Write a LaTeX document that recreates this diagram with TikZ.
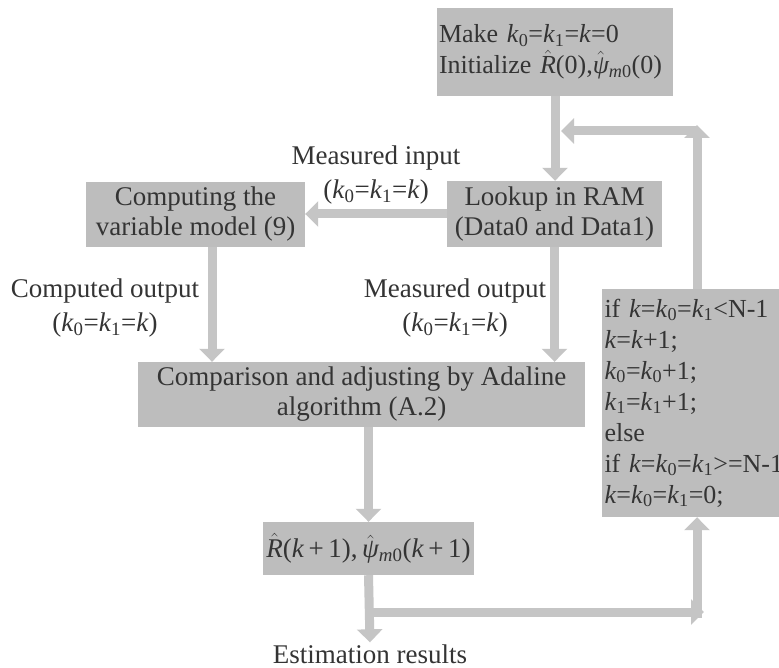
\documentclass[tikz,border=0pt]{standalone}
\usepackage{fontspec}
\setmainfont{Liberation Serif}
\usepackage{xcolor}
\usepackage{tikz}
\usetikzlibrary{arrows.meta}

\definecolor{boxgray}{RGB}{189,189,189}
\definecolor{flowgray}{RGB}{197,197,197}
\definecolor{inkgray}{RGB}{52,52,52}

\newcommand{\ksub}[1]{\textit{k}\textsubscript{#1}}
\newcommand{\hatit}[1]{$\hat{\mbox{\itshape #1}}$}

\tikzset{
	block/.style={fill=boxgray, text=inkgray, align=center, inner sep=3pt, font=\fontsize{27}{30}\selectfont},
	note/.style={text=inkgray, align=center, inner sep=2pt, font=\fontsize{27}{34}\selectfont},
	flow/.style={draw=flowgray, line width=9pt, -{Triangle[width=25pt,length=13pt]}}
}

\begin{document}
\begin{tikzpicture}[x=1pt,y=-1pt]
		\useasboundingbox[fill=white] (0,0) rectangle (779,668);
		\clip (0,0) rectangle (779,668);
		
		\node[block, align=left, text width=232, inner xsep=2pt, minimum height=88, font=\fontsize{26}{31}\selectfont] (init) at (555,52)
			{Make \ksub0=\ksub1=\textit{k}=0\\\mbox{Initialize \hatit{R}(0),\hatit{ψ}\textsubscript{\textit{m}0}(0)}};
		\node[block, minimum width=215, minimum height=66] (lookup) at (554.5,214) {Lookup in RAM\\(Data0 and Data1)};
		\node[block, minimum width=219, minimum height=65] (comp) at (195.5,214.5) {Computing the\\variable model (9)};
		\node[block, minimum width=447, minimum height=65] (compare) at (361.5,394.5) {Comparison and adjusting by Adaline\\algorithm (A.2)};
		\node[block, minimum width=207, minimum height=53] (result) at (368.5,548.5)
			{\hatit{R}(\textit{k}\,+\,1),\,\hatit{ψ}\textsubscript{\textit{m}0}(\textit{k}\,+\,1)};
		\node[block, align=left, text width=205, minimum height=228, font=\fontsize{26}{31}\selectfont] (ifbox) at (707,403)
			{if \textit{k}=\ksub0=\ksub1<N-1\\\textit{k}=\textit{k}+1;\\\ksub0=\ksub0+1;\\\ksub1=\ksub1+1;\\else\\if \textit{k}=\ksub0=\ksub1>=N-1\\\textit{k}=\ksub0=\ksub1=0;};
		
		\node[note] (inlabel) at (376,175) {Measured input\\(\ksub0=\ksub1=\textit{k})};
		\node[note] (colabel) at (105,308) {Computed output\\(\ksub0=\ksub1=\textit{k})};
		\node[note] (molabel) at (455,308) {Measured output\\(\ksub0=\ksub1=\textit{k})};
		\node[note] (est) at (370,654) {Estimation results};
		
		\coordinate (back) at (697,131);
		\coordinate (join) at (561,131);
		\coordinate (split) at (369,612);
		\coordinate (turn) at (697,612);
		\coordinate (tip) at (704,612);
		
		\draw[flow] (init.south) -- (init.south |- lookup.north);
		\draw[flow] (lookup.west) -- (lookup.west -| comp.east);
		\draw[flow] ([xshift=16.5]comp.south) -- ([xshift=16.5]comp.south |- compare.north);
		\draw[flow] (lookup.south) -- (lookup.south |- compare.north);
		\draw[flow] (result.north |- compare.south) -- (result.north);
		\draw[flow] (result.south) -- (est.north);
		\draw[flow] (split) -- (tip);
		\draw[flow] ([yshift=-6]turn) -- (turn |- ifbox.south);
		\draw[flow] (turn |- ifbox.north) -- ([yshift=6]back);
		\draw[flow] (back) -- (join);
	\end{tikzpicture}
\end{document}
